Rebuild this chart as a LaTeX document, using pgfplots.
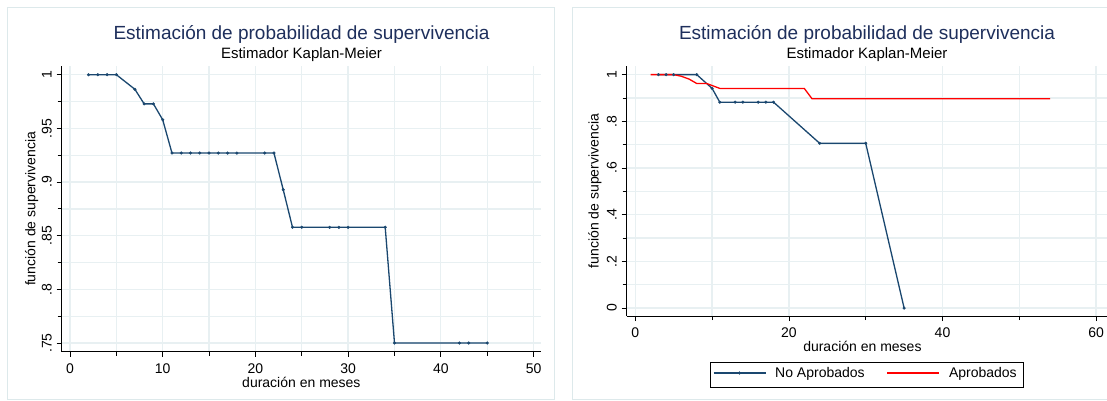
\documentclass[border=0pt]{standalone}
\usepackage{pgfplots}
\pgfplotsset{compat=1.18}
\usepackage{fontspec}
\setmainfont{Liberation Sans}
\definecolor{navy}{HTML}{1A476F}
\definecolor{titlec}{HTML}{1E2F5C}
\definecolor{gridc}{HTML}{E8F0F2}
\definecolor{framec}{HTML}{DDE9EB}
\pgfplotsset{
  statastyle/.style={
    scale only axis,
    axis lines*=left,
    axis line style={-, black, line width=0.9pt},
    tick align=outside,
    tick style={black, line width=0.8pt},
    major tick length=5pt,
    minor tick length=4pt,
    grid=both,
    major grid style={gridc, line width=1.3pt},
    minor grid style={gridc, line width=1.3pt},
    tick label style={font=\fontsize{14}{16}\selectfont},
    label style={font=\fontsize{14}{16}\selectfont},
    yticklabel style={rotate=90, anchor=south},
    yticklabel shift=1.5pt,
    xticklabel shift=3pt,
    /pgf/number format/assume math mode=true,
  }
}
\begin{document}
\begin{tikzpicture}
\useasboundingbox (0pt,0pt) rectangle (1107pt,400pt);
\fill[white] (0pt,0pt) rectangle (1107pt,400pt);
\draw[framec, line width=1pt] (7pt,1pt) rectangle (554pt,392pt);
\draw[framec, line width=1pt] (572pt,1pt) rectangle (1130pt,392pt);

% left panel
\begin{axis}[statastyle,
  at={(61.7pt,48.3pt)}, anchor=south west,
  width=479.3pt, height=285.7pt,
  xmin=-0.895, xmax=50.81, ymin=0.7419, ymax=1.0081,
  xtick={0,10,20,30,40,50},
  minor xtick={5,15,25,35,45},
  ytick={0.75,0.8,0.85,0.9,0.95,1},
  yticklabels={.75,.8,.85,.9,.95,1},
  minor ytick={0.775,0.825,0.875,0.925,0.975},
  xlabel={duración en meses},
  ylabel={función de supervivencia},
  xlabel style={at={(axis description cs:0.5,-0.109)}, anchor=center},
  ylabel style={at={(axis description cs:-0.0626,0.5)}, anchor=center},
]
\addplot[navy, draw=navy, line width=1.3pt, mark=*, mark size=1.4pt, mark options={fill=navy, draw=navy, line width=0.3pt}] coordinates {
(2,1)(3,1)(4,1)(5,1)(7,0.9864)(8,0.9728)(9,0.9728)(10,0.958)(11,0.927)(12,0.927)(13,0.927)(14,0.927)(15,0.927)(16,0.927)(17,0.927)(18,0.927)(21,0.927)(22,0.927)(23,0.8928)(24,0.8578)(25,0.8578)(28,0.8578)(29,0.8578)(30,0.8578)(34,0.8578)(35,0.75)(42,0.75)(43,0.75)(45,0.75)
};
\end{axis}

% right panel
\begin{axis}[statastyle,
  at={(626.7pt,84pt)}, anchor=south west,
  width=490pt, height=250pt,
  xmin=-1.12, xmax=62.68, ymin=-0.034, ymax=1.037,
  xtick={0,20,40,60},
  minor xtick={10,30,50},
  ytick={0,0.2,0.4,0.6,0.8,1},
  yticklabels={0,.2,.4,.6,.8,1},
  minor ytick={0.1,0.3,0.5,0.7,0.9},
  xlabel={duración en meses},
  ylabel={función de supervivencia},
  xlabel style={at={(axis description cs:0.481,-0.123)}, anchor=center},
  ylabel style={at={(axis description cs:-0.065,0.5)}, anchor=center},
  legend columns=2,
  legend style={at={(axis description cs:0.488,-0.184)}, anchor=north,
    draw=none, fill=none, font=\fontsize{14}{16}\selectfont,
    inner xsep=4pt, inner ysep=3pt,
    /tikz/every odd column/.append style={column sep=7pt},
    /tikz/every even column/.append style={column sep=20pt}},
  legend cell align=left,
  legend image code/.code={\draw[mark repeat=2, mark phase=2, #1] plot coordinates {(0pt,0pt) (26pt,0pt) (52pt,0pt)};},
]
\addplot[navy, draw=navy, line width=1.3pt, mark=*, mark size=1.4pt, mark options={fill=navy, draw=navy, line width=0.3pt}] coordinates {
(3,1)(4,1)(5,1)(8,1)(10,0.941)(11,0.882)(13,0.882)(14,0.882)(16,0.882)(17,0.882)(18,0.882)(24,0.706)(30,0.706)(35,0)
};
\addlegendentry{No Aprobados}
\addplot[red, draw=red, line width=1.3pt] coordinates {
(2,1)(5,1)(6,0.993)(7,0.981)(8,0.962)(9.3,0.962)(11,0.941)(22,0.941)(23,0.897)(54,0.897)
};
\addlegendentry{Aprobados}
\end{axis}
% legend frame
\draw[black, line width=0.8pt] (710pt,13pt) rectangle (1023pt,38pt);

% titles
\node[titlec, font=\fontsize{19}{22}\selectfont] at (301.5pt,366pt) {Estimación de probabilidad de supervivencia};
\node[black, font=\fontsize{15}{17}\selectfont] at (301.5pt,345pt) {Estimador Kaplan-Meier};
\node[titlec, font=\fontsize{19}{22}\selectfont] at (867pt,366pt) {Estimación de probabilidad de supervivencia};
\node[black, font=\fontsize{15}{17}\selectfont] at (867pt,345pt) {Estimador Kaplan-Meier};
\end{tikzpicture}
\end{document}
